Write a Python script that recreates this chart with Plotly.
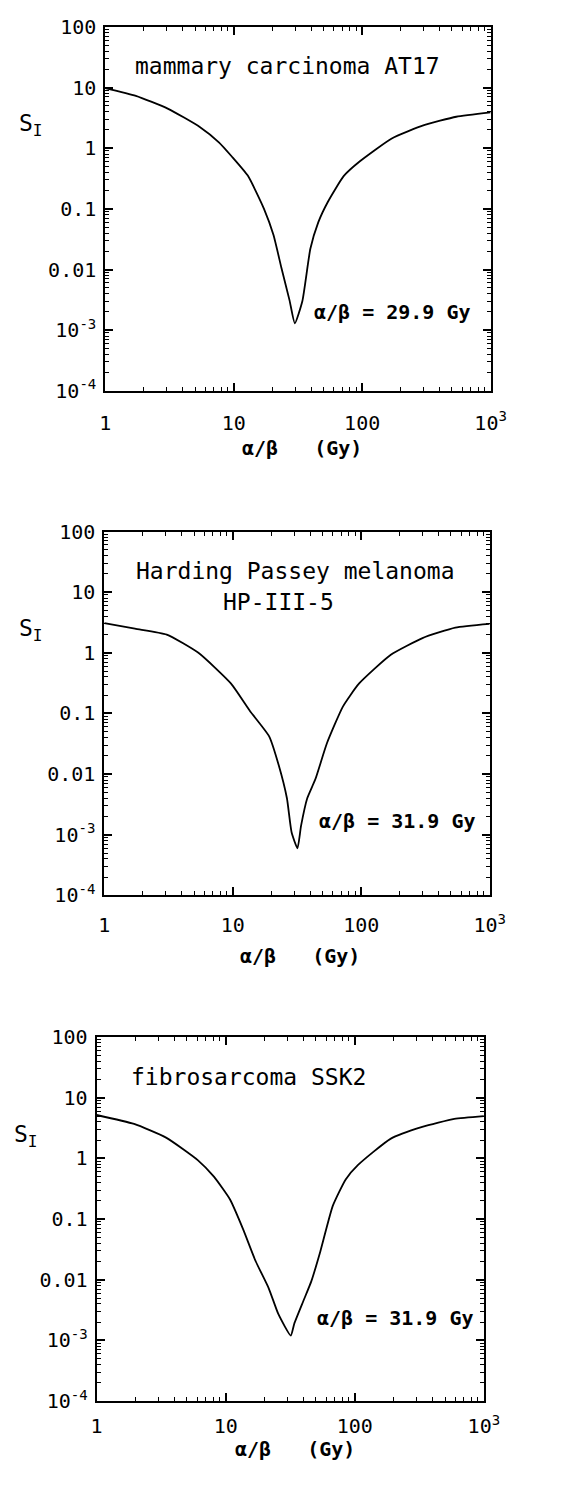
import plotly.graph_objects as go

# ---- data ----
x1 = [1, 1.73, 3.06, 5.44, 7.7, 9.66, 12.9, 17.2, 20.4, 23.5, 27.2, 29.9, 34.2, 39.5, 45.5, 54, 72, 96, 170, 303, 540, 1000]
y1 = [9.8, 7.3, 4.5, 2.24, 1.24, 0.73, 0.35, 0.1, 0.037, 0.0107, 0.0031, 0.0013, 0.003, 0.022, 0.06, 0.13, 0.35, 0.61, 1.45, 2.4, 3.3, 3.9]

x2 = [1, 1.73, 3.06, 5.4, 9.7, 13.6, 19.2, 22.8, 26.4, 28.7, 31.9, 34, 38, 44, 54, 72, 96, 170, 300, 540, 1000]
y2 = [3.1, 2.5, 2.0, 1.0, 0.31, 0.11, 0.042, 0.014, 0.004, 0.0011, 0.0006, 0.0014, 0.004, 0.0083, 0.032, 0.13, 0.31, 0.93, 1.75, 2.6, 3.0]

x3 = [1, 1.95, 3.45, 6.1, 8.1, 10.8, 13.6, 17.1, 21.5, 25.6, 31.9, 34, 40, 46, 54, 67.5, 85, 106, 189, 333, 590, 1000]
y3 = [5.2, 3.7, 2.2, 0.93, 0.5, 0.21, 0.069, 0.02, 0.0073, 0.0027, 0.0012, 0.0019, 0.0045, 0.0094, 0.029, 0.165, 0.45, 0.78, 2.1, 3.3, 4.5, 5.0]

titles = [["mammary carcinoma AT17"], ["Harding Passey melanoma", "HP-III-5"], ["fibrosarcoma SSK2"]]
ratios = ["α/β = 29.9 Gy", "α/β = 31.9 Gy", "α/β = 31.9 Gy"]

xtick_vals = [1, 10, 100, 1000]
xtick_text = ["1", "10", "100", "10<sup>3</sup>"]
ytick_vals = [1e-4, 1e-3, 0.01, 0.1, 1, 10, 100]
ytick_text = ["10<sup>-4</sup>", "10<sup>-3</sup>", "0.01", "0.1", "1", "10", "100"]

# page is 579x1485; the html body has an 8px margin, so the figure is 16px smaller
OFF = 8
W, H = 579 - 2 * OFF, 1485 - 2 * OFF
# plot-area boxes in page pixels: left, right, top, bottom
boxes = [(103, 504, 15, 385), (102, 503, 528, 898), (94, 497, 1042, 1412)]
title_pos = [[(293, 55)], [(301, 568), (283, 600)], [(252, 1083)]]
ratio_pos = [(402, 305), (407, 822), (405, 1328)]
si_pos = [(26, 115), (26, 628), (20, 1143)]
xt_pos = [(308, 443), (306, 960), (300, 1461)]
xlabel_standoff = [13, 11, 6]

mono = "DejaVu Sans Mono"


def all_ticks(decades, labels):
    """every 1..9 multiple inside the decades; labels only on the decades"""
    vals, text = [], []
    for k, (d, lab) in enumerate(zip(decades, labels)):
        vals.append(d)
        text.append(lab)
        if k < len(decades) - 1:
            for m in range(2, 10):
                vals.append(d * m)
                text.append("")
    return vals, text


xall, xall_text = all_ticks(xtick_vals, xtick_text)
yall, yall_text = all_ticks(ytick_vals, ytick_text)

fig = go.Figure()
series = [(x1, y1), (x2, y2), (x3, y3)]


def px(x):
    return (x - OFF) / W


def py(y):
    return 1 - (y - OFF) / H


annotations = []
for i, ((xs, ys), (l, r, t, b)) in enumerate(zip(series, boxes)):
    sfx = "" if i == 0 else str(i + 1)
    osfx = str(i + 4)
    fig.add_trace(go.Scatter(x=xs, y=ys, mode="lines",
                             line=dict(color="black", width=1.8, shape="spline", smoothing=0.5),
                             xaxis="x" + sfx, yaxis="y" + sfx, showlegend=False, hoverinfo="skip"))
    # invisible twin so the overlay axes (long decade ticks) are drawn
    fig.add_trace(go.Scatter(x=xs, y=ys, mode="lines", line=dict(color="rgba(0,0,0,0)", width=0),
                             xaxis="x" + osfx, yaxis="y" + osfx, showlegend=False, hoverinfo="skip"))
    common = dict(type="log", showgrid=False, zeroline=False, mirror="allticks", ticks="inside",
                  tickcolor="black")
    fig.layout["xaxis" + sfx] = dict(common, domain=[px(l), px(r)], range=[0, 3], anchor="y" + sfx,
                                     showline=True, linecolor="black", linewidth=2,
                                     ticklen=4, tickwidth=1.2, tickvals=xall, ticktext=xall_text,
                                     ticklabelstandoff=xlabel_standoff[i],
                                     tickfont=dict(family=mono, size=20, color="black"))
    fig.layout["yaxis" + sfx] = dict(common, domain=[py(b), py(t)], range=[-4, 2], anchor="x" + sfx,
                                     showline=True, linecolor="black", linewidth=2,
                                     ticklen=4, tickwidth=1.2, tickvals=yall, ticktext=yall_text,
                                     ticklabelstandoff=3,
                                     tickfont=dict(family=mono, size=20, color="black"))
    fig.layout["xaxis" + osfx] = dict(common, range=[0, 3], overlaying="x" + sfx, anchor="y" + osfx,
                                      side="bottom", showline=False, ticklen=8, tickwidth=1.5,
                                      tickvals=xtick_vals, showticklabels=False)
    fig.layout["yaxis" + osfx] = dict(common, range=[-4, 2], overlaying="y" + sfx, anchor="x" + osfx,
                                      side="left", showline=False, ticklen=8, tickwidth=1.5,
                                      tickvals=ytick_vals, showticklabels=False)
    ctr = dict(xref="paper", yref="paper", showarrow=False, xanchor="center", yanchor="middle")
    for txt, (ax, ay) in zip(titles[i], title_pos[i]):
        annotations.append(dict(ctr, x=px(ax), y=py(ay), text=txt,
                                font=dict(family=mono, size=23, color="black")))
    rx, ry = ratio_pos[i]
    annotations.append(dict(ctr, x=px(rx), y=py(ry), text="<b>" + ratios[i] + "</b>",
                            font=dict(family=mono, size=20, color="black")))
    sx, sy = si_pos[i]
    annotations.append(dict(ctr, x=px(sx), y=py(sy), text="S<sub>I</sub>",
                            font=dict(family=mono, size=23, color="black")))
    tx, ty = xt_pos[i]
    annotations.append(dict(ctr, x=px(tx), y=py(ty), text="<b>α/β   (Gy)</b>",
                            font=dict(family=mono, size=20, color="black")))

fig.update_layout(width=W, height=H, margin=dict(l=0, r=0, t=0, b=0), paper_bgcolor="white",
                  plot_bgcolor="white", annotations=annotations)
fig.write_html("out.html")
